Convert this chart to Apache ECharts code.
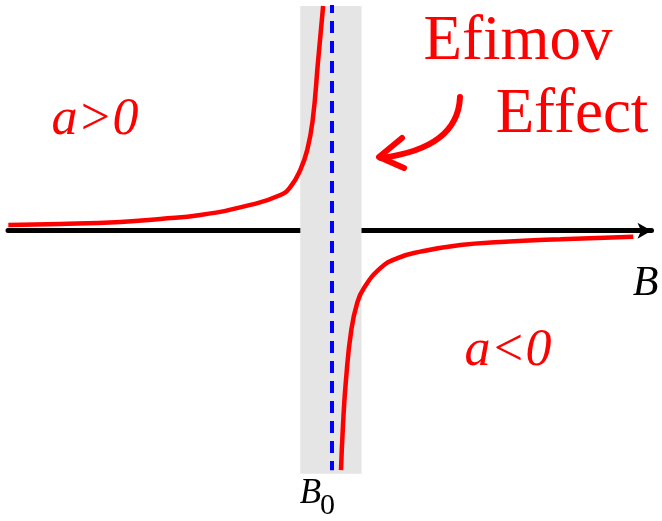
<!DOCTYPE html>
<html>
<head>
<meta charset="utf-8">
<script src="https://cdn.jsdelivr.net/npm/echarts@6/dist/echarts.min.js"></script>
<style>
  html, body { margin: 0; padding: 0; background: #ffffff; }
  #chart { width: 662px; height: 521px; }
</style>
</head>
<body>
<div id="chart"></div>
<script>
// Scattering length a versus magnetic field B near a Feshbach resonance at B0.
// Field in arbitrary units with the resonance at B = 0.

// a > 0 branch (below the resonance)
const bUpper = [-9.76, -8.19, -6.37, -5.17, -3.96, -2.45, -1.54, -1.24, -0.94, -0.73, -0.565, -0.40, -0.25];
const aUpper = [0.25, 0.29, 0.38, 0.51, 0.68, 1.12, 1.55, 1.90, 2.64, 3.51, 4.81, 7.42, 9.77];

// a < 0 branch (above the resonance)
const bLower = [0.29, 0.35, 0.44, 0.60, 0.78, 0.98, 1.48, 1.98, 2.69, 3.90, 5.11, 6.92, 9.12];
const aLower = [-10.41, -8.45, -6.49, -4.32, -3.14, -2.50, -1.63, -1.20, -0.91, -0.62, -0.49, -0.37, -0.26];

// Resonance position and the shaded window around it
const resonanceB = 0;
const resonanceA = [9.81, -10.41];
const bandB = [-0.94, 0.91];
const bandA = [9.77, -10.57];

// Axis extents
const bRange = [-9.77, 9.67];
const aRange = [-12.6, 10];

const RED = '#ff0000';
const SERIF = '"Liberation Serif", "DejaVu Serif", serif';

const zip = (xs, ys) => xs.map((x, i) => [x, ys[i]]);

const chart = echarts.init(document.getElementById('chart'), null, { renderer: 'canvas' });

chart.setOption({
  animation: false,
  backgroundColor: '#ffffff',
  grid: { left: 8, right: 10.5, top: 0.7, bottom: 0.5, containLabel: false },
  xAxis: {
    type: 'value',
    min: bRange[0],
    max: bRange[1],
    axisLine: {
      show: true,
      onZero: true,
      symbol: ['none', 'arrow'],
      symbolSize: [12, 14],
      lineStyle: { color: '#000000', width: 5 }
    },
    axisTick: { show: false },
    axisLabel: { show: false },
    splitLine: { show: false }
  },
  yAxis: {
    type: 'value',
    min: aRange[0],
    max: aRange[1],
    axisLine: { show: false },
    axisTick: { show: false },
    axisLabel: { show: false },
    splitLine: { show: false }
  },
  series: [
    {
      name: 'window',
      type: 'line',
      data: [],
      z: 1,
      markArea: {
        silent: true,
        itemStyle: { color: '#e5e5e5' },
        data: [[
          { coord: [bandB[0], bandA[0]] },
          { coord: [bandB[1], bandA[1]] }
        ]]
      },
      markLine: {
        silent: true,
        symbol: ['none', 'none'],
        label: { show: false },
        lineStyle: { color: '#0000ff', width: 4, type: [12, 8], dashOffset: 4 },
        data: [[
          { coord: [resonanceB, resonanceA[0]] },
          { coord: [resonanceB, resonanceA[1]] }
        ]]
      }
    },
    {
      name: 'a>0',
      type: 'line',
      z: 3,
      showSymbol: false,
      smooth: 0.5,
      clip: false,
      lineStyle: { color: RED, width: 4.5 },
      data: zip(bUpper, aUpper)
    },
    {
      name: 'a<0',
      type: 'line',
      z: 3,
      showSymbol: false,
      smooth: 0.5,
      clip: false,
      lineStyle: { color: RED, width: 4.5 },
      data: zip(bLower, aLower)
    }
  ],
  graphic: [
    {
      type: 'text', z: 10,
      style: { text: 'Efimov', x: 518, y: 42, textAlign: 'center', textVerticalAlign: 'middle',
               font: '63px ' + SERIF, fill: RED }
    },
    {
      type: 'text', z: 10,
      style: { text: 'Effect', x: 572, y: 115, textAlign: 'center', textVerticalAlign: 'middle',
               font: '63px ' + SERIF, fill: RED }
    },
    {
      type: 'bezierCurve', z: 10,
      shape: { x1: 460, y1: 97, cpx1: 458, cpy1: 148, x2: 381, y2: 158 },
      style: { stroke: RED, lineWidth: 6, fill: null, lineCap: 'round' }
    },
    {
      type: 'polyline', z: 10,
      shape: { points: [[402, 138], [379, 157], [404, 168]] },
      style: { stroke: RED, lineWidth: 6, fill: null, lineCap: 'round', lineJoin: 'round' }
    },
    {
      type: 'text', z: 10,
      style: { text: 'a>0', x: 95, y: 120, textAlign: 'center', textVerticalAlign: 'middle',
               font: 'italic 52px ' + SERIF, fill: RED }
    },
    {
      type: 'text', z: 10,
      style: { text: 'a<0', x: 508, y: 351, textAlign: 'center', textVerticalAlign: 'middle',
               font: 'italic 52px ' + SERIF, fill: RED }
    },
    {
      type: 'text', z: 10,
      style: { text: 'B', x: 645.5, y: 284, textAlign: 'center', textVerticalAlign: 'middle',
               font: 'italic 42px ' + SERIF, fill: '#000000' }
    },
    {
      type: 'text', z: 10,
      style: { text: 'B', x: 310.5, y: 494, textAlign: 'center', textVerticalAlign: 'middle',
               font: 'italic 35px ' + SERIF, fill: '#000000' }
    },
    {
      type: 'text', z: 10,
      style: { text: '0', x: 327.5, y: 506, textAlign: 'center', textVerticalAlign: 'middle',
               font: '30px ' + SERIF, fill: '#000000' }
    }
  ]
});
</script>
</body>
</html>
